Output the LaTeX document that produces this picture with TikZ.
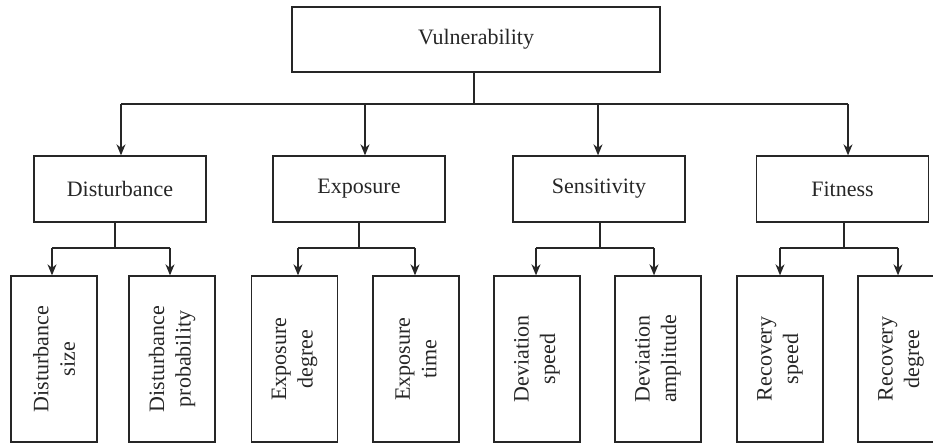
\documentclass[tikz,border=0pt]{standalone}
\usepackage{fontspec}
\setmainfont{Liberation Serif}
\usetikzlibrary{arrows.meta}
\begin{document}
\begin{tikzpicture}[x=1pt,y=-1pt,
  box/.style={draw=black!85,line width=1.3pt,text=black!85,inner sep=0pt,font=\fontsize{22}{26.5}\selectfont},
  topbox/.style={box,minimum width=368pt,minimum height=65pt},
  midbox/.style={box,minimum width=172pt,minimum height=66pt},
  leafbox/.style={box,rotate=90,align=center,minimum width=166pt,minimum height=86pt},
  conn/.style={draw=black!85,line width=1.3pt},
  arr/.style={conn,-{Stealth[length=11pt,width=9pt,inset=3.5pt]}}]
\clip (0,0) rectangle (933,443);
\node[topbox] (v) at (476,39.5) {Vulnerability};
\node[midbox] (d) at (120,189) {Disturbance};
\node[midbox] (e) at (359,189) {Exposure};
\node[midbox] (s) at (599,189) {Sensitivity};
\node[midbox] (f) at (842.5,189) {Fitness};
\node[leafbox] (d1) at (54,359) {Disturbance\\size};
\node[leafbox] (d2) at (172,359) {Disturbance\\probability};
\node[leafbox] (e1) at (294.5,359) {Exposure\\degree};
\node[leafbox] (e2) at (416,359) {Exposure\\time};
\node[leafbox] (s1) at (537,359) {Deviation\\speed};
\node[leafbox] (s2) at (658,359) {Deviation\\amplitude};
\node[leafbox] (f1) at (780,359) {Recovery\\speed};
\node[leafbox] (f2) at (901,359) {Recovery\\degree};
% top level bus
\coordinate (vb) at (474,104);
\coordinate (b1) at (121,104);
\coordinate (b2) at (365,104);
\coordinate (b3) at (598,104);
\coordinate (b4) at (848,104);
\draw[conn] (v.south -| vb) -- (vb);
\draw[conn] (b1) -- (b4);
\draw[arr] (b1) -- (b1 |- d.north);
\draw[arr] (b2) -- (b2 |- e.north);
\draw[arr] (b3) -- (b3 |- s.north);
\draw[arr] (b4) -- (b4 |- f.north);
% second level buses
\foreach \p/\mx/\ax/\bx/\ca/\cb in {d/115/52/170/d1/d2, e/359/298/415/e1/e2, s/600/536/654/s1/s2, f/844/780/898/f1/f2}{
  \coordinate (\p m) at (\mx,248);
  \coordinate (\p a) at (\ax,248);
  \coordinate (\p b) at (\bx,248);
  \draw[conn] (\p.south -| \p m) -- (\p m);
  \draw[conn] (\p a) -- (\p b);
  \draw[arr] (\p a) -- (\p a |- \ca.east);
  \draw[arr] (\p b) -- (\p b |- \cb.east);
}
\end{tikzpicture}
\end{document}
